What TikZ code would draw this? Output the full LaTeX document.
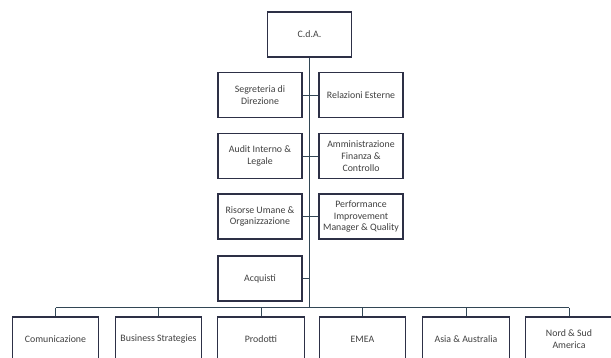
\documentclass[tikz,border=0pt]{standalone}
\usepackage{fontspec}
\setmainfont{Carlito}
\definecolor{boxline}{RGB}{45,48,70}
\definecolor{wire}{RGB}{50,70,85}
\begin{document}
\begin{tikzpicture}[x=0.03cm,y=-0.03cm,
		orgbox/.style={draw=boxline,line width=0.9pt,fill=white,align=center,
			minimum width=2.52cm,minimum height=1.35cm,inner sep=1pt,
			font=\fontsize{8.4}{10}\selectfont,text=black!75},
		lowbox/.style={orgbox,minimum width=2.6cm,minimum height=1.32cm},
		wire/.style={draw=wire,line width=0.6pt}]
		\useasboundingbox (0,0) rectangle (611,357);
		\clip (0,0) rectangle (611,357);

		\node[orgbox] (cda) at (309.5,34.5) {C.d.A.};

		\node[orgbox] (segr) at (260,95) {Segreteria di\\Direzione};
		\node[orgbox] (rel) at (361,95) {Relazioni Esterne};
		\node[orgbox] (audit) at (260,156) {Audit Interno \&\\Legale};
		\node[orgbox] (amm) at (361,156) {Amministrazione\\Finanza \&\\Controllo};
		\node[orgbox] (risorse) at (260,216.5) {Risorse Umane \&\\Organizzazione};
		\node[orgbox] (perf) at (361,216.5) {Performance\\Improvement\\Manager \& Quality};
		\node[orgbox] (acq) at (260,278.5) {Acquisti};

		\coordinate (busl) at (55.5,307.5);
		\coordinate (busr) at (569,307.5);

		\foreach \x/\n/\t in {55.5/com/Comunicazione,158.5/bus/Business Strategies,
			261/prod/Prodotti,362.5/emea/EMEA,466/asia/{Asia \& Australia},
			569/nsa/{Nord \& Sud\\America}}
		\node[lowbox] (\n) at (\x,339) {\t};

		% tronco e rami
		\draw[wire] (cda.south) -- (cda.south |- busl);
		\foreach \n in {segr,audit,risorse,acq}
		\draw[wire] (\n.east) -- (\n.east -| cda.south);
		\foreach \n in {rel,amm,perf}
		\draw[wire] (\n.west) -- (\n.west -| cda.south);

		\draw[wire] (busl) -- (busr);
		\foreach \n in {com,bus,prod,emea,asia,nsa}
		\draw[wire] (\n.north |- busl) -- (\n.north);
	\end{tikzpicture}
\end{document}
